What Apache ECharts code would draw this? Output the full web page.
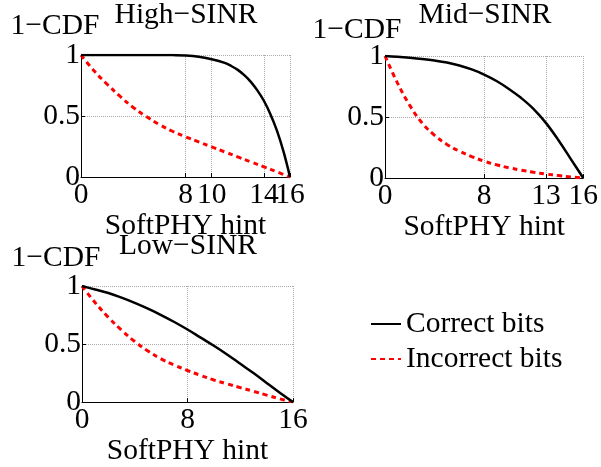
<!DOCTYPE html>
<html>
<head>
<meta charset="utf-8">
<script src="https://cdn.jsdelivr.net/npm/echarts@6/dist/echarts.min.js"></script>
<style>html,body{margin:0;padding:0;background:#fff}#c{width:601px;height:467px}</style>
</head>
<body>
<div id="c"></div>
<script>
// ---- data ----
const hints = [0,1,2,3,4,5,6,7,8,9,10,11,12,13,14,15,16];
const highCorrectHints = [0,1,2,3,4,5,6,7,8,9,10,11,11.5,12,12.5,13,13.5,14,14.5,15,15.5,16];
const highCorrect = [1,1,1,1,1,1,1,0.999,0.996,0.986,0.965,0.935,0.91,0.878,0.835,0.78,0.71,0.625,0.515,0.38,0.21,0];
const highIncorrect = [1,0.87,0.76,0.66,0.57,0.495,0.43,0.375,0.33,0.288,0.247,0.206,0.165,0.124,0.083,0.042,0];
const midCorrect = [1,0.994,0.986,0.976,0.963,0.946,0.922,0.89,0.848,0.795,0.73,0.655,0.565,0.45,0.31,0.155,0];
const midIncorrect = [1,0.78,0.595,0.45,0.35,0.275,0.22,0.175,0.138,0.108,0.084,0.064,0.047,0.032,0.02,0.009,0];
const lowCorrect = [1,0.97,0.94,0.90,0.855,0.805,0.75,0.69,0.625,0.555,0.485,0.41,0.33,0.25,0.165,0.08,0];
const lowIncorrect = [1,0.856,0.73,0.62,0.522,0.44,0.372,0.318,0.272,0.23,0.19,0.157,0.125,0.093,0.06,0.028,0];
const highTicks = [0,8,10,14,16];
const midTicks = [0,8,13,16];
const lowTicks = [0,8,16];
const yTicks = [0,0.5,1];
const titles = ['High\u2212SINR','Mid\u2212SINR','Low\u2212SINR'];
const yName = '1\u2212CDF';
const xName = 'SoftPHY hint';
const seriesNames = ['Correct bits','Incorrect bits'];

// ---- chart ----
const FONT = "'Liberation Serif','Times New Roman',serif";
const FS = 29.5;
const zip = (xs, ys) => xs.map((x, i) => [x, ys[i]]);

const grids = [
  {left: 81, top: 55, width: 209, height: 122},
  {left: 385, top: 56, width: 200, height: 122},
  {left: 82, top: 286, width: 211, height: 121}
];
const xTickSets = [highTicks, midTicks, lowTicks];
const nameGaps = [29, 28, 26];
const lblStyle = {fontFamily: FONT, fontSize: FS, color: '#000', margin: 3,
  showMinLabel: true, showMaxLabel: true, hideOverlap: false};

const xAxes = grids.map((g, i) => ({
  type: 'value', gridIndex: i, min: 0, max: 16, position: 'bottom',
  name: xName, nameLocation: 'middle', nameGap: nameGaps[i],
  nameTextStyle: {fontFamily: FONT, fontSize: FS, color: '#000'},
  axisLine: {show: true, lineStyle: {color: '#000', width: 1}},
  axisTick: {show: true, inside: true, length: 4, customValues: xTickSets[i], lineStyle: {color: '#000'}},
  axisLabel: Object.assign({customValues: i === 0 ? xTickSets[i].slice(0, -1) : xTickSets[i]}, lblStyle),
  splitLine: {show: true, lineStyle: {type: 'dotted', color: '#aaa', width: 1}}
}));
// extra label-only axis for the last High-SINR tick label (it touches "14")
xAxes.push({
  type: 'value', gridIndex: 0, min: 0, max: 16, position: 'bottom', offset: 0,
  axisLine: {show: false}, axisTick: {show: false}, splitLine: {show: false},
  axisLabel: Object.assign({customValues: highTicks.slice(-1)}, lblStyle)
});
const yAxes = grids.map((g, i) => ({
  type: 'value', gridIndex: i, min: 0, max: 1, interval: 0.5,
  axisLine: {show: true, lineStyle: {color: '#000', width: 1}},
  axisTick: {show: true, inside: true, length: 4, lineStyle: {color: '#000'}},
  axisLabel: Object.assign({formatter: v => String(v)}, lblStyle, {margin: 1}),
  splitLine: {show: true, lineStyle: {type: 'dotted', color: '#aaa', width: 1}}
}));

const blackStyle = {color: '#000', width: 2.5, type: 'solid'};
const redStyle = {color: '#ff0000', width: 3, type: [5, 4]};
function mk(name, idx, data, style) {
  return {name, type: 'line', xAxisIndex: idx, yAxisIndex: idx, data,
    showSymbol: false, symbol: 'none', smooth: 0.4, lineStyle: style,
    itemStyle: {color: style.color}, z: name === seriesNames[0] ? 3 : 2};
}
const series = [
  mk(seriesNames[0], 0, zip(highCorrectHints, highCorrect), blackStyle),
  mk(seriesNames[1], 0, zip(hints, highIncorrect), redStyle),
  mk(seriesNames[0], 1, zip(hints, midCorrect), blackStyle),
  mk(seriesNames[1], 1, zip(hints, midIncorrect), redStyle),
  mk(seriesNames[0], 2, zip(hints, lowCorrect), blackStyle),
  mk(seriesNames[1], 2, zip(hints, lowIncorrect), redStyle)
];

const tStyle = {fontFamily: FONT, fontSize: FS, fontWeight: 'normal', color: '#000'};
const title = [
  {text: titles[0], left: 186, top: 0, textAlign: 'center', padding: 0, textStyle: tStyle},
  {text: titles[1], left: 485, top: 0, textAlign: 'center', padding: 0, textStyle: tStyle},
  {text: titles[2], left: 188, top: 231, textAlign: 'center', padding: 0, textStyle: tStyle},
  {text: yName, left: 55, top: 11, textAlign: 'center', padding: 0, textStyle: tStyle},
  {text: yName, left: 357, top: 15, textAlign: 'center', padding: 0, textStyle: tStyle},
  {text: yName, left: 56, top: 243, textAlign: 'center', padding: 0, textStyle: tStyle}
];

const chart = echarts.init(document.getElementById('c'), null, {renderer: 'canvas'});
chart.setOption({
  backgroundColor: '#fff',
  animation: false,
  title,
  legend: {
    data: seriesNames, orient: 'vertical', left: 370, top: 309, padding: 0,
    itemWidth: 30, itemHeight: 14, itemGap: 5,
    itemStyle: {opacity: 0},
    textStyle: {fontFamily: FONT, fontSize: FS, color: '#000'}
  },
  grid: grids,
  xAxis: xAxes,
  yAxis: yAxes,
  series
});
</script>
</body>
</html>
